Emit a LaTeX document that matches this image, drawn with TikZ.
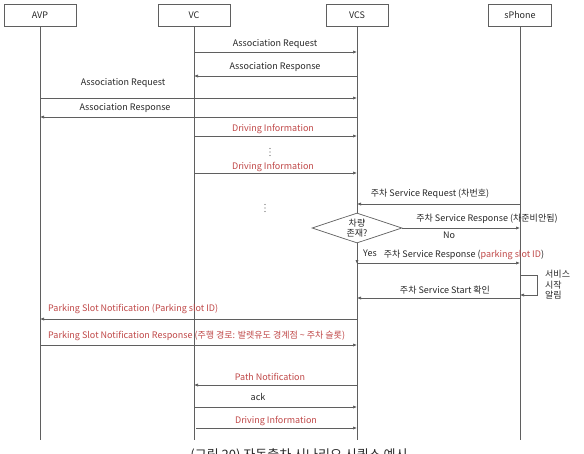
\documentclass[tikz,border=0pt]{standalone}
\usepackage{fontspec}
\setmainfont{Noto Sans CJK KR}
\usetikzlibrary{arrows.meta,shapes.geometric}
\definecolor{lin}{RGB}{95,95,95}
\definecolor{rd}{RGB}{192,72,72}
\definecolor{txt}{RGB}{40,40,40}
\begin{document}
\begin{tikzpicture}[x=1pt,y=-1pt,
  actor/.style={draw=lin,line width=0.7pt,minimum width=72pt,minimum height=22pt,inner sep=0pt,font=\fontsize{9}{10}\selectfont,text=txt},
  life/.style={draw=lin,line width=0.7pt},
  msg/.style={draw=lin,line width=0.7pt,-{Latex[length=4pt,width=3.2pt]}},
  lbl/.style={font=\fontsize{9}{10.5}\selectfont,text=txt,inner sep=0pt},
  rlbl/.style={lbl,text=rd},
  dot/.style={fill=lin}]
\useasboundingbox (0,0) rectangle (584,453);
\fill[white] (0,0) rectangle (584,453);
% actors
\node[actor] (avp) at (40,15) {AVP};
\node[actor] (vc) at (194,15) {VC};
\node[actor,minimum width=62pt] (vcs) at (357,15) {VCS};
\node[actor,minimum width=63pt] (sp) at (520,15) {sPhone};
% lifeline ends
\coordinate (avpE) at (40,440);
\coordinate (vcE) at (194,440);
\coordinate (vcsE) at (357,440);
\coordinate (spE) at (520,440);
\draw[life] (avp.south) -- (avpE);
\draw[life] (vc.south) -- (vcE);
\draw[life] (vcs.south) -- (vcsE);
\draw[life] (sp.south) -- (spE);
% message anchor points
\foreach \n/\x/\y in {a1/194/52,b1/357/52,a2/357/76,b2/194/76,a3/40/98,b3/357/98,a4/357/117,b4/40/117,
  a5/194/136,b5/357/136,a7/194/173,b7/357/173,a8/520/204,b8/357/204,b11/520/228,
  b12/357/264,a13/357/263,b13/520/263,s1/520/275,s2/520/295,a15/520/298,b15/357/298,
  a16/357/319,b16/40/319,a17/40/345,b17/357/345,a18/357/385,b18/194/385,a19/194/407,b19/357/407,
  a20/196/428,b20/357/428}
  \coordinate (\n) at (\x,\y);
% messages
\draw[msg] (a1) -- (b1);
\node[lbl] (l1) at (275,44) {Association Request};
\draw[msg] (a2) -- (b2);
\node[lbl] (l2) at (275,67) {Association Response};
\draw[msg] (a3) -- (b3);
\node[lbl] (l3) at (123,83) {Association Request};
\draw[msg] (a4) -- (b4);
\node[lbl] (l4) at (125,108) {Association Response};
\draw[msg] (a5) -- (b5);
\node[rlbl] (l5) at (273,129) {Driving Information};
\foreach \yy in {148.5,152,155.5} \fill[dot] (270,\yy) circle (0.6pt);
\draw[msg] (a7) -- (b7);
\node[rlbl] (l7) at (273,167) {Driving Information};
\draw[msg] (a8) -- (b8);
\node[lbl] (l8) at (430,194) {주차 Service Request (차번호)};
\foreach \yy in {204.5,208,211.5} \fill[dot] (265,\yy) circle (0.6pt);
% decision
\node[draw=lin,fill=white,line width=0.7pt,diamond,aspect=3,minimum width=90pt,minimum height=30pt,inner sep=0pt,
  font=\fontsize{9}{10}\selectfont,text=txt,align=center] (dec) at (357,228) {차량\\존재?};
\draw[msg] (dec.east) -- (b11);
\node[lbl] (l11) at (487,219) {주차 Service Response (차준비안됨)};
\node[lbl] (no) at (449,235) {No};
\draw[msg,line width=1pt] (dec.south) -- (b12);
\node[lbl] (yes) at (370,253) {Yes};
\draw[msg] (a13) -- (b13);
\node[lbl] (l13) at (464,255) {주차 Service Response (\textcolor{rd}{parking slot ID})};
\draw[msg] (s1) -- ++(17,0) |- (s2);
\node[lbl,align=left,anchor=west] (l14) at (545,285) {서비스\\시작\\알림};
\draw[msg] (a15) -- (b15);
\node[lbl] (l15) at (445,290) {주차 Service Start 확인};
\draw[msg] (a16) -- (b16);
\node[rlbl,anchor=west] (l16) at (48,309) {Parking Slot Notification (Parking slot ID)};
\draw[msg] (a17) -- (b17);
\node[rlbl,anchor=west] (l17) at (48,336) {Parking Slot Notification Response (주행 경로: 발렛유도 경계점 \textasciitilde{} 주차 슬롯)};
\draw[msg] (a18) -- (b18);
\node[rlbl] (l18) at (270,377) {Path Notification};
\draw[msg] (a19) -- (b19);
\node[lbl] (l19) at (258,397) {ack};
\draw[msg] (a20) -- (b20);
\node[rlbl] (l20) at (276,421) {Driving Information};
% caption (cut off by page edge, as in the reference)
\node[font=\fontsize{13}{15}\selectfont,text=txt,anchor=north,inner sep=0pt] (cap) at (299,448) {(그림 20) 자동출차 시나리오 시퀀스 예시};
\end{tikzpicture}
\end{document}
